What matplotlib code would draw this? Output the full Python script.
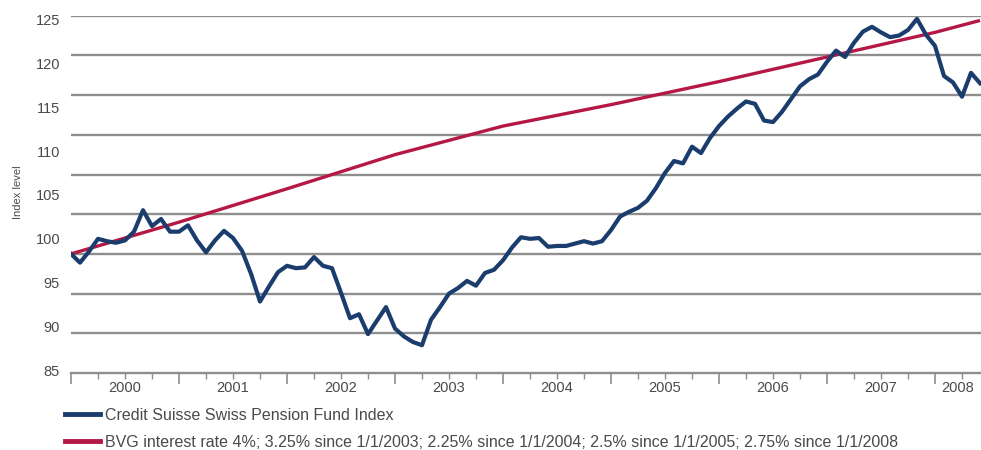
import matplotlib
matplotlib.use("Agg")
import matplotlib.pyplot as plt
import matplotlib.transforms as mtransforms
from matplotlib.lines import Line2D
from matplotlib.ticker import MultipleLocator, NullFormatter
import numpy as np

plt.rcParams["font.family"] = ["Liberation Sans", "DejaVu Sans"]

# Monthly index level, starting at 100 at the beginning of 2000
start_year = 2000
fund_index = [
    100.0, 98.9, 100.3, 101.9, 101.6, 101.4, 101.7, 102.8, 105.5, 103.5, 104.4, 102.8,
    102.8, 103.6, 101.7, 100.2, 101.7, 102.9, 102.0, 100.4, 97.5, 94.0, 95.9, 97.7,
    98.5, 98.2, 98.3, 99.6, 98.5, 98.2, 95.1, 91.9, 92.4, 89.9, 91.6, 93.3,
    90.6, 89.6, 88.9, 88.5, 91.7, 93.3, 95.0, 95.7, 96.6, 96.0, 97.6, 98.0,
    99.2, 100.8, 102.1, 101.9, 102.0, 100.9, 101.0, 101.0, 101.3, 101.6, 101.3, 101.6,
    103.0, 104.7, 105.3, 105.8, 106.7, 108.3, 110.2, 111.7, 111.4, 113.5, 112.7, 114.6,
    116.1, 117.3, 118.3, 119.2, 118.9, 116.8, 116.6, 117.9, 119.5, 121.1, 122.0, 122.6,
    124.2, 125.6, 124.8, 126.6, 128.0, 128.6, 127.9, 127.3, 127.5, 128.2, 129.6, 127.6,
    126.2, 122.4, 121.6, 119.8, 122.8, 121.5,
]

# BVG minimum interest path at the start of each year (plus last month shown)
bvg_years = [2000, 2001, 2002, 2003, 2004, 2005, 2006, 2007, 2008, 2008 + 5 / 12]
bvg_values = [100.0, 104.0, 108.2, 112.5, 116.1, 118.8, 121.7, 124.8, 127.9, 129.4]

year_labels = ["2000", "2001", "2002", "2003", "2004", "2005", "2006", "2007", "2008"]
y_tick_labels = ["125", "120", "115", "110", "105", "100", "95", "90", "85"]

series_names = [
    "Credit Suisse Swiss Pension Fund Index",
    "BVG interest rate 4%; 3.25% since 1/1/2003; 2.25% since 1/1/2004; "
    "2.5% since 1/1/2005; 2.75% since 1/1/2008",
]

blue = "#1b3d6d"
red = "#b51845"
grid_grey = "#8e8e8e"
text_grey = "#4a4a4a"

fig = plt.figure(figsize=(9.81, 4.5), dpi=100)
ax = fig.add_axes([71 / 981, 1 - 373 / 450, 1 - 71 / 981, (373 - 15.7) / 450])

months = start_year + np.arange(len(fund_index)) / 12.0
x_end = start_year + (981 - 71) / 108.0

ax.plot(bvg_years, bvg_values, color=red, lw=2.4, solid_capstyle="butt", zorder=3)
ax.plot(months, fund_index, color=blue, lw=3.0, solid_joinstyle="round", zorder=4)

ax.set_xlim(start_year, x_end)
ax.set_ylim(85, 130)

# horizontal rules every 5 index points
for v in range(90, 131, 5):
    ax.axhline(v, color=grid_grey, lw=1.7, zorder=1)

for side in ("left", "right", "top"):
    ax.spines[side].set_visible(False)
ax.spines["bottom"].set_color(grid_grey)
ax.spines["bottom"].set_linewidth(1.7)

ax.set_yticks([])
ax.xaxis.set_major_locator(MultipleLocator(1))
ax.xaxis.set_minor_locator(MultipleLocator(0.25))
ax.xaxis.set_major_formatter(NullFormatter())
ax.tick_params(axis="x", which="major", length=8, width=1.2, color=grid_grey, direction="out")
ax.tick_params(axis="x", which="minor", length=4, width=1.0, color=grid_grey, direction="out")

# year labels centred on each year (2008 centred on its visible part)
label_x = [y + 0.5 for y in range(2000, 2008)] + [(2008 + x_end) / 2]
for xv, lab in zip(label_x, year_labels):
    ax.text(xv, -0.022, lab, transform=mtransforms.blended_transform_factory(ax.transData, ax.transAxes),
            ha="center", va="top", fontsize=10.5, color=text_grey)

# value labels down the left edge
for k, lab in enumerate(y_tick_labels):
    yf = 0.985 - k * (0.982 / 8)
    ax.text(-0.012, yf, lab, transform=ax.transAxes, ha="right", va="center",
            fontsize=10.5, color=text_grey)

fig.text(18 / 981, 1 - 192 / 450, "Index level", rotation=90, ha="center", va="center",
         fontsize=8, color=text_grey)

handles = [Line2D([], [], color=blue, lw=3.5), Line2D([], [], color=red, lw=3.5)]
fig.legend(handles, series_names, loc="upper left", bbox_to_anchor=(60 / 981, 1 - 403 / 450),
           frameon=False, fontsize=11.5, handlelength=2.2, handletextpad=0.3,
           labelspacing=0.75, labelcolor=text_grey, borderaxespad=0, borderpad=0.3)

fig.savefig("out.png", dpi=100)
